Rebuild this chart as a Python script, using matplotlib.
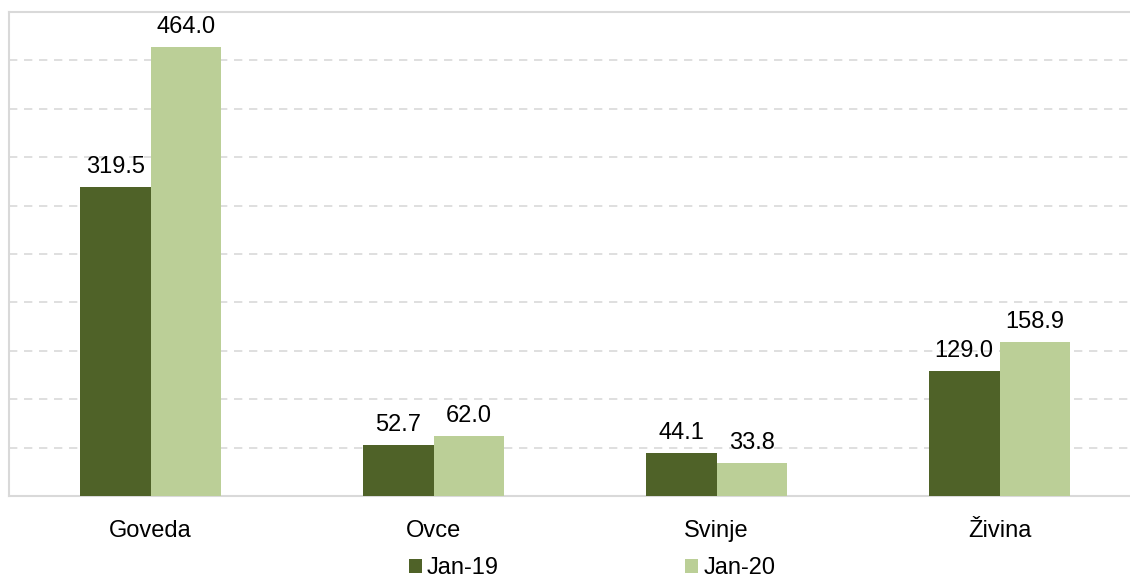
import numpy as np
import matplotlib.pyplot as plt

plt.rcParams['font.family'] = ['Liberation Sans', 'DejaVu Sans']

categories = ['Goveda', 'Ovce', 'Svinje', 'Živina']
jan19 = [319.5, 52.7, 44.1, 129.0]
jan20 = [464.0, 62.0, 33.8, 158.9]
series_names = ['Jan-19', 'Jan-20']

dark = '#4F6228'
light = '#BBCF97'
grid_col = '#D9D9D9'
fs = 17

fig = plt.figure(figsize=(11.3, 5.85), dpi=100)
ax = fig.add_axes([9 / 1130, 1 - 496 / 585, 1132 / 1130, 484 / 585])

x = np.arange(len(categories))
w = 0.25
b1 = ax.bar(x - w / 2, jan19, w, color=dark, label=series_names[0], zorder=3)
b2 = ax.bar(x + w / 2, jan20, w, color=light, label=series_names[1], zorder=3)

# value labels above each bar
for bars in (b1, b2):
    for rect in bars:
        h = rect.get_height()
        ax.annotate('{:.1f}'.format(h), (rect.get_x() + rect.get_width() / 2, h),
                    xytext=(0, 6.5), textcoords='offset points',
                    ha='center', va='bottom', fontsize=fs)

ax.set_xlim(-0.5, 3.5)
ax.set_ylim(0, 500)
ax.set_yticks(np.arange(50, 500, 50))
ax.yaxis.grid(True, color=grid_col, linestyle=(0, (5, 4)), linewidth=1.2, zorder=0)
ax.tick_params(axis='y', left=False, labelleft=False)
ax.set_xticks(x)
ax.set_xticklabels(categories, fontsize=fs)
ax.tick_params(axis='x', bottom=False, pad=13.5)

for side in ('left', 'bottom', 'top'):
    ax.spines[side].set_color(grid_col)
    ax.spines[side].set_linewidth(1.5)
ax.spines['right'].set_visible(False)

fig.legend(handles=[b1, b2], loc='center', bbox_to_anchor=(592 / 1130, 1 - 568 / 585),
           ncol=2, frameon=False, fontsize=fs, handlelength=0.55, handleheight=0.55,
           handletextpad=0.22, columnspacing=7.9, borderpad=0, borderaxespad=0)

fig.savefig('out.png', dpi=100)
